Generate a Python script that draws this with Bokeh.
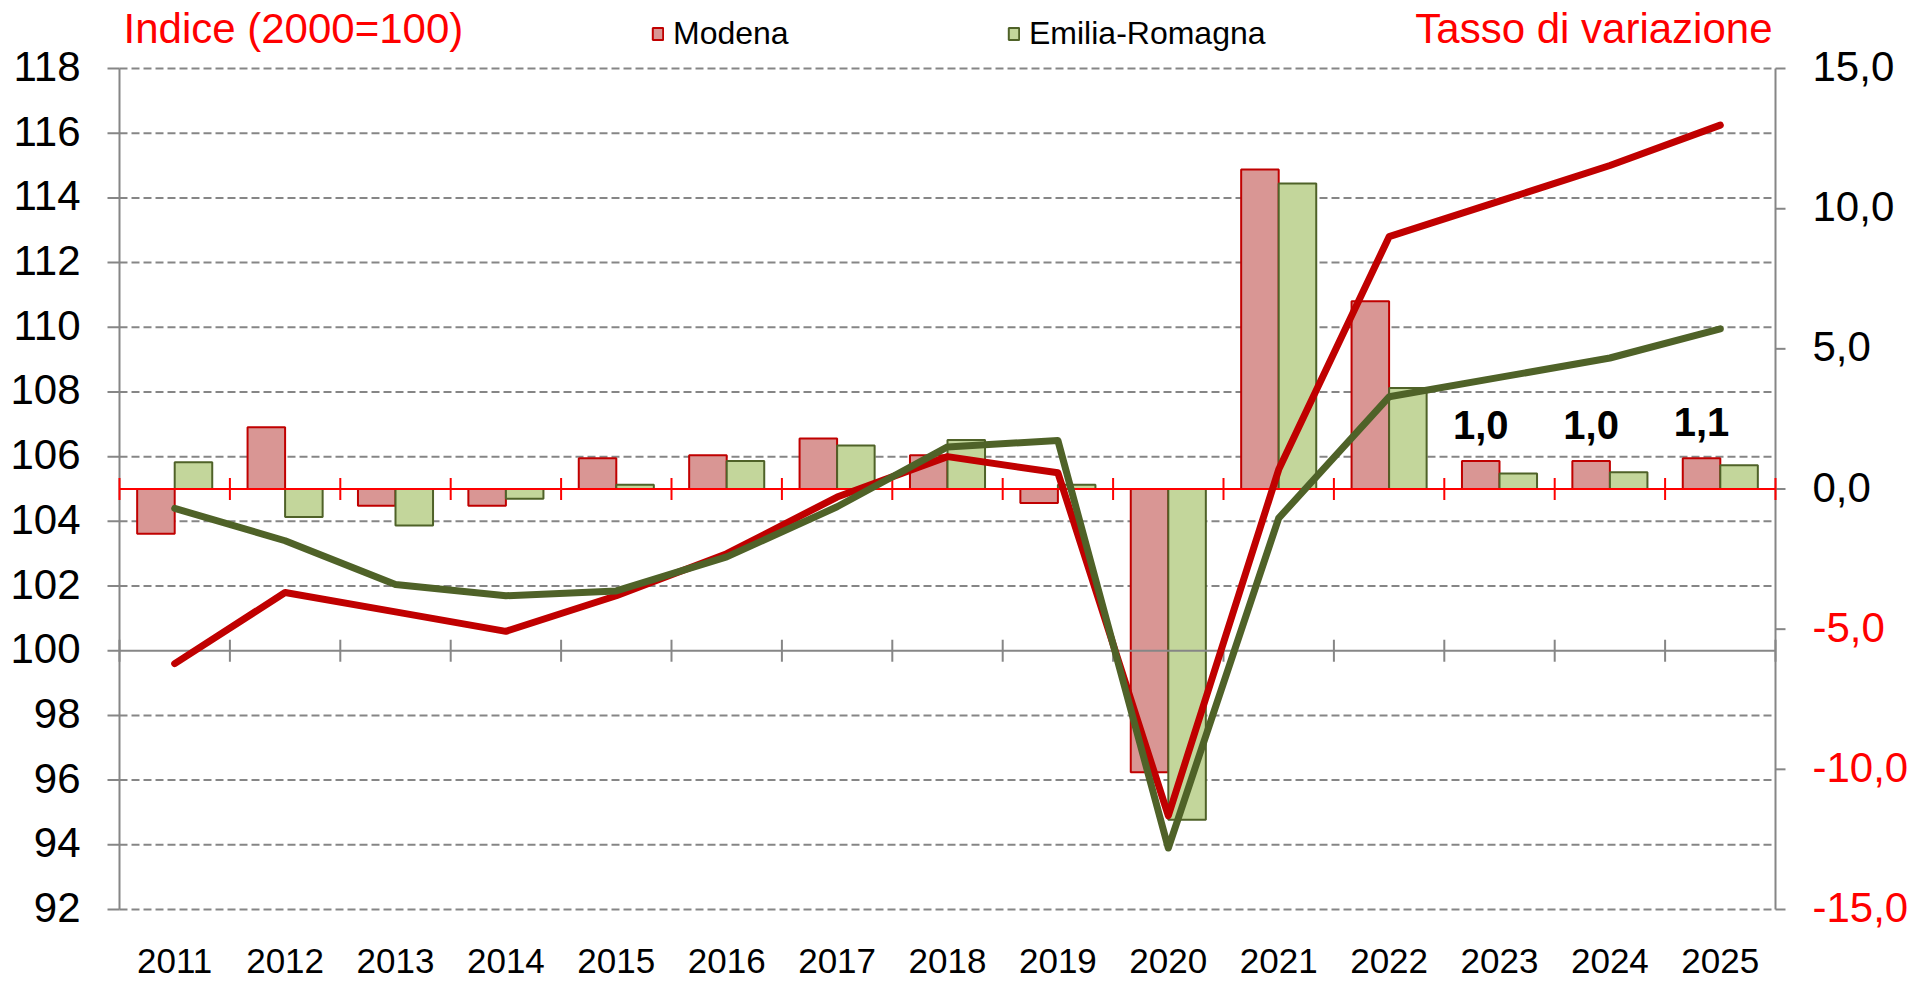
import math
from bokeh.plotting import figure
from bokeh.models import Range1d, ColumnDataSource, Legend, LegendItem
from bokeh.core.properties import value
from bokeh.embed import file_html
from bokeh.resources import INLINE

# Data
years = ["2011", "2012", "2013", "2014", "2015", "2016", "2017", "2018",
         "2019", "2020", "2021", "2022", "2023", "2024", "2025"]
modena_idx = [99.6, 101.8, 101.2, 100.6, 101.7, 103.0, 104.75, 106.0,
              105.5, 94.9, 105.6, 112.8, 113.9, 115.0, 116.25]
er_idx = [104.4, 103.4, 102.05, 101.7, 101.85, 102.9, 104.45, 106.3,
          106.5, 93.9, 104.1, 107.85, 108.45, 109.05, 109.95]
modena_var = [-1.6, 2.2, -0.6, -0.6, 1.1, 1.2, 1.8, 1.2,
              -0.5, -10.1, 11.4, 6.7, 1.0, 1.0, 1.1]
er_var = [0.95, -1.0, -1.3, -0.35, 0.15, 1.0, 1.55, 1.75,
          0.15, -11.8, 10.9, 3.6, 0.55, 0.6, 0.85]
left_ticks = list(range(92, 119, 2))
right_ticks = [-15, -10, -5, 0, 5, 10, 15]
labelled_years = ["2023", "2024", "2025"]

FONT = value("Liberation Sans")
RED_TXT = "#FF0000"
MOD_LINE = "#C00000"
MOD_FILL = "#D99694"
ER_LINE = "#4F6228"
ER_FILL = "#C3D69B"
GRID = "#868686"

# canvas and plot-area geometry (pixels)
W, H = 1926, 982
PL, PR, PT, PB = 119, 1775, 68, 909

n = len(years)
centers = [i + 0.5 for i in range(n)]
bounds = list(range(n + 1))
bar_w = 0.34

lo, hi = left_ticks[0], left_ticks[-1]
rlo, rhi = right_ticks[0], right_ticks[-1]
ux = (PR - PL) / n
uy = (PB - PT) / (hi - lo)
ur = (PB - PT) / (rhi - rlo)

# the frame covers the whole canvas; the plot area sits inside it
p = figure(width=W, height=H, output_backend="svg", toolbar_location=None,
           x_axis_location=None, y_axis_location=None,
           x_range=Range1d(-PL / ux, n + (W - PR) / ux),
           y_range=Range1d(lo - (H - PB) / uy, hi + PT / uy),
           min_border=0)
p.extra_y_ranges = {"pct": Range1d(rlo - (H - PB) / ur, rhi + PT / ur)}
p.grid.visible = False
p.outline_line_color = None
p.background_fill_color = "white"
p.border_fill_color = "white"

# dashed horizontal gridlines on the index scale
gt = [t for t in left_ticks if t != 100]
p.segment(x0=[0] * len(gt), x1=[n] * len(gt), y0=gt, y1=gt,
          line_color=GRID, line_width=2, line_dash="8 4")

# bars (variation rates, right scale)
src = ColumnDataSource(dict(
    xm=[c - bar_w / 2 for c in centers], xe=[c + bar_w / 2 for c in centers],
    mv=modena_var, ev=er_var))
rm = p.vbar(x="xm", top="mv", bottom=0, width=bar_w, source=src, y_range_name="pct",
            fill_color=MOD_FILL, line_color=MOD_LINE, line_width=2)
re_ = p.vbar(x="xe", top="ev", bottom=0, width=bar_w, source=src, y_range_name="pct",
             fill_color=ER_FILL, line_color=ER_LINE, line_width=2)

# left axis: line, outward ticks, labels
p.segment(x0=[0], x1=[0], y0=[lo], y1=[hi], line_color=GRID, line_width=2)
p.ray(x=[0] * len(left_ticks), y=left_ticks, length=12, length_units="screen",
      angle=math.pi, line_color=GRID, line_width=2)
p.text(x=[0] * len(left_ticks), y=left_ticks, text=[str(t) for t in left_ticks],
       x_offset=-39, y_offset=-2, text_align="right", text_baseline="middle",
       text_font=FONT, text_font_size="42px", text_color="black")

# right axis: line, outward ticks, labels (negatives in red)
p.segment(x0=[n], x1=[n], y0=[rlo], y1=[rhi], y_range_name="pct",
          line_color=GRID, line_width=2)
p.ray(x=[n] * len(right_ticks), y=right_ticks, y_range_name="pct", length=10,
      length_units="screen", angle=0, line_color=GRID, line_width=2)
p.text(x=[n] * len(right_ticks), y=right_ticks, y_range_name="pct",
       text=[f"{t:.1f}".replace(".", ",") for t in right_ticks],
       x_offset=37, y_offset=-2, text_align="left", text_baseline="middle",
       text_font=FONT, text_font_size="42px",
       text_color=["black" if t >= 0 else RED_TXT for t in right_ticks])

# category axis of the index crossing at 100 (gray) with cross ticks
p.segment(x0=[0], x1=[n], y0=[100], y1=[100], line_color=GRID, line_width=2)
p.scatter(x=bounds, y=[100] * len(bounds), marker="dash", angle=math.pi / 2,
          size=22, line_color=GRID, line_width=2)

# category axis of the rates crossing at 0 (red) with cross ticks
p.segment(x0=[0], x1=[n], y0=[0], y1=[0], y_range_name="pct",
          line_color=RED_TXT, line_width=2)
p.scatter(x=bounds, y=[0] * len(bounds), y_range_name="pct", marker="dash",
          angle=math.pi / 2, size=22, line_color=RED_TXT, line_width=2)

# year labels under the plot area
p.text(x=centers, y=[lo] * n, text=years, y_offset=51, text_align="center",
       text_baseline="alphabetic", text_font=FONT, text_font_size="35px",
       text_color="black")

# index lines
p.line(centers, modena_idx, line_color=MOD_LINE, line_width=7,
       line_join="round", line_cap="round")
p.line(centers, er_idx, line_color=ER_LINE, line_width=7,
       line_join="round", line_cap="round")

# value labels on the forecast years
sel = [years.index(y) for y in labelled_years]
p.text(x=[centers[i] - bar_w / 2 for i in sel], y=[modena_var[i] for i in sel],
       y_range_name="pct",
       text=[f"{modena_var[i]:.1f}".replace(".", ",") for i in sel],
       y_offset=-36, text_align="center", text_baseline="alphabetic",
       text_font=FONT, text_font_size="40px", text_font_style="bold",
       text_color="black")

# titles of the two scales
p.text(x=[0], y=[hi], text=["Indice (2000=100)"], x_offset=4, y_offset=-40,
       text_align="left", text_baseline="alphabetic", text_font=FONT,
       text_font_size="42px", text_color=RED_TXT)
p.text(x=[n], y=[hi], text=["Tasso di variazione"], x_offset=-3, y_offset=-40,
       text_align="right", text_baseline="alphabetic", text_font=FONT,
       text_font_size="42px", text_color=RED_TXT)

# legend, one block per series
for rend, name, xloc in [(rm, "Modena", 651), (re_, "Emilia-Romagna", 1007)]:
    lg = Legend(items=[LegendItem(label=name, renderers=[rend])],
                location=(xloc, H - 52), orientation="horizontal",
                padding=0, margin=0, border_line_color=None,
                background_fill_alpha=0, glyph_width=13, glyph_height=15,
                label_standoff=9, label_text_font="Liberation Sans",
                label_text_font_size="32px", label_text_color="black",
                label_height=30)
    p.add_layout(lg, "center")

open("out.html", "w").write(file_html(p, INLINE))
